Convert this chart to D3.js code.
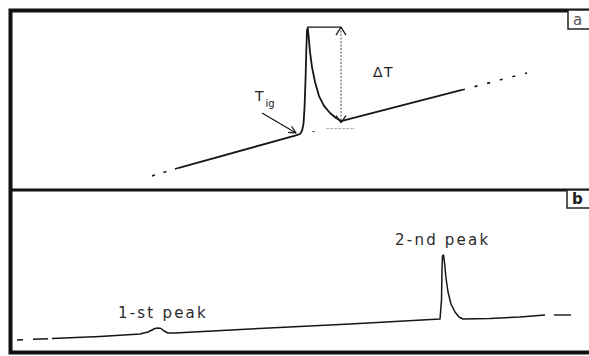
<!DOCTYPE html>
<html><head><meta charset="utf-8">
<script src="https://cdn.jsdelivr.net/npm/d3@7"></script>
<style>html,body{margin:0;padding:0;background:#fff;} svg{display:block}</style>
</head><body>
<svg id="c" width="589" height="356"></svg>
<script>
// ---- data (time in arbitrary units, signal in arbitrary units) ----
const panelLabels = ["a", "b"];

// panel a: ignition trace
const aLeadTime   = [24.48, 28.97];
const aLeadSignal = [7.8, 12.2];
const aTime   = [28.97, 49.31, 50.00, 50.34, 50.60, 50.78, 50.95, 51.09, 51.21, 51.34, 51.48, 51.72, 52.07, 52.59, 53.28, 54.14, 55.17, 56.21, 57.07, 77.93];
const aSignal = [12.2, 30.3, 31.1, 32.8, 36.7, 45.6, 61.1, 77.8, 88.9, 90.0, 85.6, 76.7, 68.3, 60.0, 52.2, 46.7, 42.8, 40.0, 38.3, 55.6];
const aTrailTime   = [77.93, 89.14];
const aTrailSignal = [55.6, 65.0];
const aPeakTime = 51.21, aPeakSignal = 90.5, aArrowTime = 57.07, aArrowBase = 38.0;
const aIgnArrowFrom = [43.45, 42.8], aIgnArrowTo = [49.31, 31.7];

// panel b: two-stage trace
const bLeadTime   = [1.21, 7.24];
const bLeadSignal = [7.41, 8.33];
const bTime   = [7.24, 15.52, 22.41, 23.79, 24.48, 25.00, 25.52, 26.03, 26.55, 27.24, 28.45, 41.38, 58.62, 74.14, 74.40, 74.48, 74.57, 74.74, 74.91, 75.17, 75.52, 76.03, 76.72, 77.41, 78.10, 82.76, 87.93, 92.24];
const bSignal = [8.33, 9.57, 11.11, 12.35, 13.58, 14.51, 14.81, 14.51, 12.96, 11.73, 11.73, 14.20, 17.28, 20.37, 32.10, 50.62, 59.26, 59.88, 55.56, 45.68, 37.04, 29.63, 24.69, 21.60, 20.37, 20.68, 21.60, 22.84];
const bTrailTime   = [93.79, 96.72];
const bTrailSignal = [22.84, 22.84];
const bPeakNames = ["1-st peak", "2-nd peak"];

// ---- drawing ----
const svg = d3.select("#c");
const x  = d3.scaleLinear().domain([0, 100]).range([10, 590]);
const yA = d3.scaleLinear().domain([0, 100]).range([190, 10]);
const yB = d3.scaleLinear().domain([0, 100]).range([352, 190]);
const ink = "#161616";

function zip(t, v) { return t.map((d, i) => [d, v[i]]); }
function lineFor(ys, curve) {
  return d3.line().x(d => x(d[0])).y(d => ys(d[1])).curve(curve || d3.curveLinear);
}

// frame
const frame = svg.append("g").attr("fill", "none").attr("stroke", "#111");
frame.append("path").attr("stroke-width", 4)
  .attr("d", `M592,${yA(100)+0.5} H${x(0)+0.5} V${yB(0)+0.5} H592`);
frame.append("line").attr("stroke-width", 3)
  .attr("x1", x(0)).attr("x2", 592).attr("y1", yA(0)).attr("y2", yA(0));

// panel label boxes
const boxes = [
  {lab: panelLabels[0], y0: 10, y1: 29, x0: 568, bold: false},
  {lab: panelLabels[1], y0: 190, y1: 208, x0: 567, bold: true}
];
boxes.forEach(b => {
  svg.append("rect").attr("x", b.x0).attr("y", b.y0).attr("width", 30).attr("height", b.y1 - b.y0)
    .attr("fill", "#fff").attr("stroke", "#222").attr("stroke-width", 1.5);
  svg.append("text").attr("x", b.x0 + 5).attr("y", b.y1 - 4)
    .attr("font-family", "DejaVu Sans, sans-serif").attr("font-size", 15)
    .attr("font-weight", b.bold ? "bold" : "normal")
    .attr("fill", b.bold ? "#222" : "#555").text(b.lab);
});

// panel a curves
const gA = svg.append("g").attr("fill", "none").attr("stroke", ink).attr("stroke-linejoin", "round");
gA.append("path").attr("d", lineFor(yA)(zip(aLeadTime, aLeadSignal)))
  .attr("stroke-width", 1.6).attr("stroke-dasharray", "3,9");
gA.append("path").attr("d", lineFor(yA)(zip(aTime, aSignal)))
  .attr("stroke-width", 1.8);
gA.append("path").attr("d", lineFor(yA)(zip(aTrailTime, aTrailSignal)))
  .attr("stroke-width", 1.6).attr("stroke-dasharray", "3,10");

// delta T annotation
const ax = x(aArrowTime), ayTop = yA(aPeakSignal), ayBot = yA(aArrowBase);
gA.append("line").attr("x1", x(aPeakTime)).attr("x2", ax).attr("y1", ayTop).attr("y2", ayTop)
  .attr("stroke-width", 1.4);
gA.append("line").attr("x1", ax).attr("x2", ax).attr("y1", ayTop).attr("y2", ayBot)
  .attr("stroke-width", 1).attr("stroke-dasharray", "2,1.5").attr("stroke", "#444");
gA.append("path").attr("d", `M${ax-5},${ayTop+8} L${ax},${ayTop} L${ax+5},${ayTop+8}`).attr("stroke-width", 1.2);
gA.append("path").attr("d", `M${ax-5},${ayBot-6} L${ax},${ayBot+1} L${ax+5},${ayBot-6}`).attr("stroke-width", 1.2);
gA.append("line").attr("x1", ax - 15).attr("x2", ax + 14).attr("y1", ayBot + 7).attr("y2", ayBot + 7)
  .attr("stroke", "#aaa").attr("stroke-width", 1).attr("stroke-dasharray", "3,1");
gA.append("line").attr("x1", x(aPeakTime) + 5).attr("x2", x(aPeakTime) + 8).attr("y1", ayBot + 10).attr("y2", ayBot + 10)
  .attr("stroke", "#666").attr("stroke-width", 1);
svg.append("text").attr("x", ax + 32).attr("y", yA(62.8))
  .attr("font-family", "DejaVu Sans, sans-serif").attr("font-size", 14).attr("letter-spacing", 1.5)
  .attr("fill", "#222").text("ΔT");

// T_ig annotation
const f = [x(aIgnArrowFrom[0]), yA(aIgnArrowFrom[1])], t = [x(aIgnArrowTo[0]), yA(aIgnArrowTo[1])];
gA.append("line").attr("x1", f[0]).attr("y1", f[1]).attr("x2", t[0]).attr("y2", t[1]).attr("stroke-width", 1.2);
const ang = Math.atan2(t[1] - f[1], t[0] - f[0]);
const hl = 8, hw = 0.45;
gA.append("path").attr("stroke-width", 1.2).attr("d",
  `M${t[0] - hl*Math.cos(ang - hw)},${t[1] - hl*Math.sin(ang - hw)} L${t[0]},${t[1]} L${t[0] - hl*Math.cos(ang + hw)},${t[1] - hl*Math.sin(ang + hw)}`);
const tig = svg.append("text").attr("x", f[0] - 7).attr("y", f[1] - 12)
  .attr("font-family", "DejaVu Sans, sans-serif").attr("font-size", 14).attr("fill", "#222");
tig.append("tspan").text("T");
tig.append("tspan").attr("font-size", 10).attr("dx", 2).attr("dy", 6).text("ig");

// panel b curves
const gB = svg.append("g").attr("fill", "none").attr("stroke", ink).attr("stroke-linejoin", "round");
gB.append("path").attr("d", lineFor(yB)(zip(bLeadTime, bLeadSignal)))
  .attr("stroke-width", 1.4).attr("stroke-dasharray", "6,10,15,4");
gB.append("path").attr("d", lineFor(yB)(zip(bTime, bSignal)))
  .attr("stroke-width", 1.5);
gB.append("path").attr("d", lineFor(yB)(zip(bTrailTime, bTrailSignal)))
  .attr("stroke-width", 1.4);

// peak labels
const peakLabelPos = [[18.62, 21.0], [66.4, 66.0]];
bPeakNames.forEach((n, i) => {
  svg.append("text").attr("x", x(peakLabelPos[i][0])).attr("y", yB(peakLabelPos[i][1]))
    .attr("font-family", "DejaVu Sans, sans-serif").attr("font-size", 15).attr("letter-spacing", 2.2)
    .attr("fill", "#2a2a2a").text(n);
});
</script>
</body></html>
